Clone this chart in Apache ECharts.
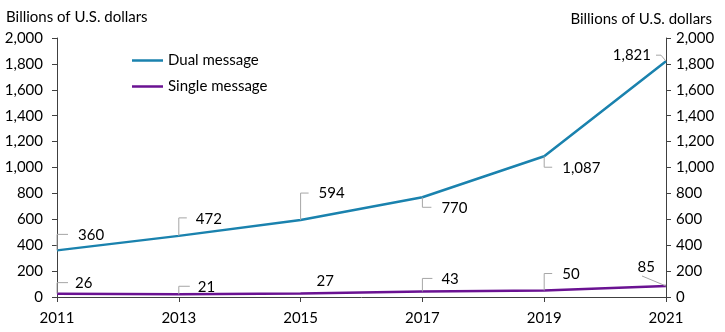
<!DOCTYPE html>
<html>
<head>
<meta charset="utf-8">
<script src="https://cdn.jsdelivr.net/npm/echarts@6/dist/echarts.min.js"></script>
<style>html,body{margin:0;padding:0;background:#fff}#c{width:725px;height:332px}</style>
</head>
<body>
<div id="c"></div>
<script>
const years = ['2011', '2013', '2015', '2017', '2019', '2021'];
const dualMessage = [360, 472, 594, 770, 1087, 1821];
const singleMessage = [26, 21, 27, 43, 50, 85];
const yTicks = { min: 0, max: 2000, interval: 200 };

// label leader-line layout (pixel offsets relative to each point)
const dualLabelLayout = [
  { pts: [[0, -16], [11, -16]], tx: 21, ty: -15, align: 'left' },
  { pts: [[0, -18], [8, -18]], tx: 17, ty: -17, align: 'left' },
  { pts: [[0, -27], [8, -27]], tx: 18, ty: -27, align: 'left' },
  { pts: [[0, 10], [9, 10]], tx: 19, ty: 11, align: 'left' },
  { pts: [[0, 11], [8, 11]], tx: 18, ty: 12, align: 'left' },
  { pts: [[-5, -6], [-10, -6]], tx: -15, ty: -6, align: 'right' }
];
const singleLabelLayout = [
  { pts: [[0, -11], [11, -11]], tx: 18, ty: -10, align: 'left' },
  { pts: [[0, -8], [11, -8]], tx: 19, ty: -7, align: 'left' },
  { pts: [], tx: 16, ty: -12, align: 'left' },
  { pts: [[0, -13], [10, -13]], tx: 19, ty: -12, align: 'left' },
  { pts: [[0, -17], [8, -17]], tx: 18, ty: -16, align: 'left' },
  { pts: [[-24, -10]], tx: -11, ty: -19, align: 'right' }
];

const FONT = 'Lato, "Open Sans", sans-serif';
const FS = 15;
const dualColor = '#1a82ae';
const singleColor = '#6a1292';
const fmt = v => Number(v).toLocaleString('en-US');

function labelRenderer(layout) {
  return function (params, api) {
    const p = api.coord([api.value(0), api.value(1)]);
    const o = layout[params.dataIndex];
    const children = [];
    if (o.pts.length) {
      children.push({
        type: 'polyline',
        shape: { points: [p].concat(o.pts.map(d => [p[0] + d[0], p[1] + d[1]])) },
        style: { stroke: '#a6a6a6', lineWidth: 1, fill: null }
      });
    }
    children.push({
      type: 'text',
      x: p[0] + o.tx,
      y: p[1] + o.ty,
      style: {
        text: fmt(api.value(1)),
        textAlign: o.align,
        textVerticalAlign: 'middle',
        fontFamily: FONT,
        fontSize: FS,
        fill: '#000'
      }
    });
    return { type: 'group', children };
  };
}

const axisLine = { show: true, lineStyle: { color: '#404040', width: 1 } };
const axisTick = { show: true, length: 5, lineStyle: { color: '#404040' } };
const yLabelL = { color: '#000', fontFamily: FONT, fontSize: FS, formatter: fmt, margin: 14 };
const yLabelR = { color: '#000', fontFamily: FONT, fontSize: FS, formatter: fmt, margin: 10 };
const lineIcon = 'path://M0 0H31V2.5H0Z';

const chart = echarts.init(document.getElementById('c'), null, { renderer: 'canvas' });
chart.setOption({
  animation: false,
  textStyle: { fontFamily: FONT },
  title: [
    { text: 'Billions of U.S. dollars', left: 1, top: 5, textStyle: { fontFamily: FONT, fontSize: FS, fontWeight: 'normal', color: '#000' } },
    { text: 'Billions of U.S. dollars', right: 8, top: 7, textStyle: { fontFamily: FONT, fontSize: FS, fontWeight: 'normal', color: '#000' } }
  ],
  legend: {
    orient: 'vertical',
    left: 127,
    top: 48,
    itemWidth: 31,
    itemHeight: 14,
    itemGap: 11,
    icon: lineIcon,
    textStyle: { fontFamily: FONT, fontSize: FS, color: '#000' },
    data: ['Dual message', 'Single message']
  },
  grid: { left: 57, right: 59, top: 38, bottom: 35 },
  xAxis: {
    type: 'category',
    data: years,
    boundaryGap: false,
    axisLine: axisLine,
    axisTick: Object.assign({ alignWithLabel: true }, axisTick),
    axisLabel: { color: '#000', fontFamily: FONT, fontSize: FS, margin: 14 },
    splitLine: { show: false }
  },
  yAxis: [
    Object.assign({ type: 'value', position: 'left', axisLine, axisTick, axisLabel: yLabelL, splitLine: { show: false } }, yTicks),
    Object.assign({ type: 'value', position: 'right', axisLine, axisTick, axisLabel: yLabelR, splitLine: { show: false } }, yTicks)
  ],
  series: [
    {
      name: 'Dual message', type: 'line', data: dualMessage, symbol: 'none', showSymbol: false,
      lineStyle: { color: dualColor, width: 2.5 }, itemStyle: { color: dualColor }, z: 3
    },
    {
      name: 'Single message', type: 'line', data: singleMessage, symbol: 'none', showSymbol: false,
      lineStyle: { color: singleColor, width: 2.5 }, itemStyle: { color: singleColor }, z: 3
    },
    {
      type: 'custom', renderItem: labelRenderer(dualLabelLayout), silent: true, z: 4,
      data: dualMessage.map((v, i) => [i, v])
    },
    {
      type: 'custom', renderItem: labelRenderer(singleLabelLayout), silent: true, z: 4,
      data: singleMessage.map((v, i) => [i, v])
    }
  ]
});
</script>
</body>
</html>
